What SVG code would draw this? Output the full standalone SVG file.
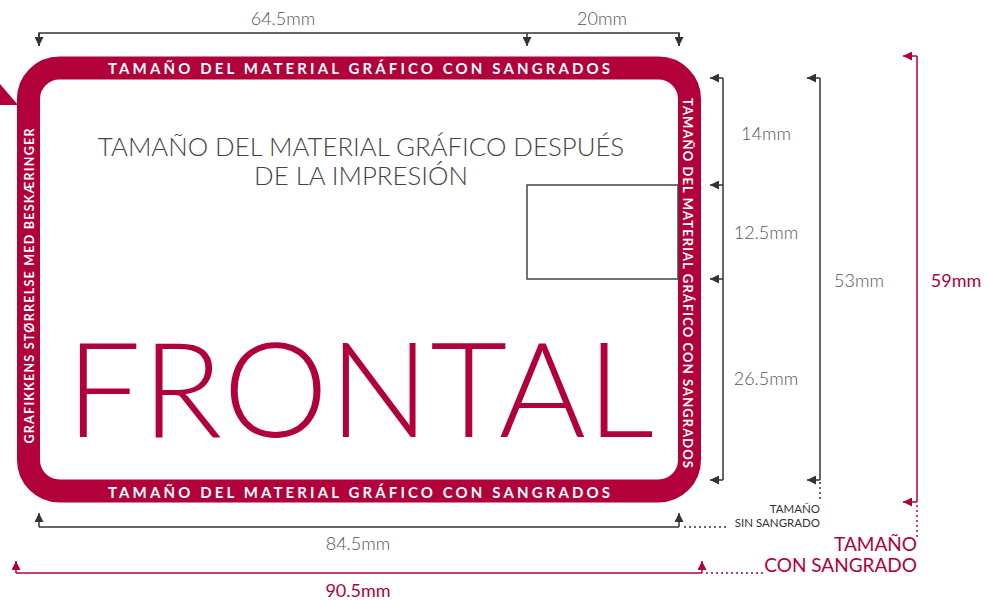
<svg xmlns="http://www.w3.org/2000/svg" width="988" height="601" viewBox="0 0 988 601">
<defs>
<style>
.band{font-family:Lato,"Liberation Sans",sans-serif;font-weight:700;fill:#fff}
.dim{font-family:Lato,"Liberation Sans",sans-serif;font-weight:300;fill:#555;font-size:18px}
.rdim{font-family:Lato,"Liberation Sans",sans-serif;font-weight:400;fill:#b1003a;font-size:18px}
.lk{fill:none;stroke:#333;stroke-width:1.5}
.lr{fill:none;stroke:#b1003a;stroke-width:1.5}
.dk{fill:none;stroke:#333;stroke-width:1.5;stroke-dasharray:2 3}
.dr{fill:none;stroke:#b1003a;stroke-width:1.5;stroke-dasharray:2 3}
</style>
<marker id="ak" viewBox="0 0 10 10" refX="10" refY="5" markerWidth="9" markerHeight="9" markerUnits="userSpaceOnUse" orient="auto"><path d="M0,0 L10,5 L0,10 z" fill="#333"/></marker>
<marker id="ar" viewBox="0 0 10 10" refX="10" refY="5" markerWidth="9" markerHeight="9" markerUnits="userSpaceOnUse" orient="auto"><path d="M0,0 L10,5 L0,10 z" fill="#b1003a"/></marker>
</defs>
<rect width="988" height="601" fill="#fff"/>

<g id="corner-mark"><polygon points="0,84 18,105 0,105" fill="#b1003a"/></g>

<g id="frame">
<rect x="28.5" y="68" width="661" height="423" rx="31" ry="31" fill="none" stroke="#b1003a" stroke-width="23"/>
<text class="band" x="359" y="74" font-size="15" text-anchor="middle" textLength="502" lengthAdjust="spacing">TAMAÑO DEL MATERIAL GRÁFICO CON SANGRADOS</text>
<text class="band" x="359" y="498" font-size="15" text-anchor="middle" textLength="502" lengthAdjust="spacing">TAMAÑO DEL MATERIAL GRÁFICO CON SANGRADOS</text>
<text class="band" transform="translate(33.5,286) rotate(-90)" font-size="12.5" text-anchor="middle" textLength="315" lengthAdjust="spacing">GRAFIKKENS STØRRELSE MED BESKÆRINGER</text>
<text class="band" transform="translate(683,283) rotate(90)" font-size="13" text-anchor="middle" textLength="370" lengthAdjust="spacing">TAMAÑO DEL MATERIAL GRÁFICO CON SANGRADOS</text>
</g>

<g id="title">
<text x="361" y="156" font-family="Lato,'Liberation Sans',sans-serif" font-weight="300" font-size="25.8" fill="#444" text-anchor="middle">TAMAÑO DEL MATERIAL GRÁFICO DESPUÉS</text>
<text x="361" y="185" font-family="Lato,'Liberation Sans',sans-serif" font-weight="300" font-size="25.8" fill="#444" text-anchor="middle">DE LA IMPRESIÓN</text>
</g>

<g id="chip"><rect x="527" y="185" width="151" height="94" fill="#fff" stroke="#444" stroke-width="1.5"/></g>

<g id="frontal">
<text x="66" y="437" font-family="Lato,'Liberation Sans',sans-serif" font-weight="300" font-size="133" fill="#b1003a" textLength="588" lengthAdjust="spacing">FRONTAL</text>
</g>

<g id="connectors">
<path class="lk" d="M39,46 V33 H679 V46"/>
<path class="lk" d="M39,33 V46" marker-end="url(#ak)"/>
<path class="lk" d="M527,33 V46" marker-end="url(#ak)"/>
<path class="lk" d="M679,33 V46" marker-end="url(#ak)"/>
<path class="lk" d="M723,78 V480"/>
<path class="lk" d="M723,78 H710" marker-end="url(#ak)"/>
<path class="lk" d="M723,185 H710" marker-end="url(#ak)"/>
<path class="lk" d="M723,279 H710" marker-end="url(#ak)"/>
<path class="lk" d="M723,480 H710" marker-end="url(#ak)"/>
<path class="lk" d="M820,78 V480"/>
<path class="lk" d="M820,78 H807" marker-end="url(#ak)"/>
<path class="lk" d="M820,480 H807" marker-end="url(#ak)"/>
<path class="dk" d="M820,482 V502"/>
<path class="lr" d="M917,56 V502"/>
<path class="lr" d="M917,56 H903" marker-end="url(#ar)"/>
<path class="lr" d="M917,502 H903" marker-end="url(#ar)"/>
<path class="dr" d="M917,505 V540"/>
<path class="lk" d="M39,527 H679"/>
<path class="lk" d="M39,527 V513" marker-end="url(#ak)"/>
<path class="lk" d="M679,527 V513" marker-end="url(#ak)"/>
<path class="dk" d="M684,527 H729"/>
<path class="lr" d="M16,573 H702"/>
<path class="lr" d="M16,573 V561" marker-end="url(#ar)"/>
<path class="lr" d="M702,573 V561" marker-end="url(#ar)"/>
<path class="dr" d="M706,573 H766"/>
</g>

<g id="labels">
<text class="dim" x="283" y="25" text-anchor="middle">64.5mm</text>
<text class="dim" x="602" y="25" text-anchor="middle">20mm</text>
<text class="dim" x="766" y="140" text-anchor="middle">14mm</text>
<text class="dim" x="766" y="239" text-anchor="middle">12.5mm</text>
<text class="dim" x="766" y="385" text-anchor="middle">26.5mm</text>
<text class="dim" x="859" y="287" text-anchor="middle">53mm</text>
<text class="rdim" x="956" y="287" text-anchor="middle">59mm</text>
<text class="dim" x="358" y="550" text-anchor="middle">84.5mm</text>
<text class="rdim" x="358" y="597" text-anchor="middle">90.5mm</text>
<text x="820" y="513" font-family="Lato,'Liberation Sans',sans-serif" font-size="11.5" fill="#333" text-anchor="end">TAMAÑO</text>
<text x="820" y="527" font-family="Lato,'Liberation Sans',sans-serif" font-size="11.5" fill="#333" text-anchor="end">SIN SANGRADO</text>
<text x="917" y="551" font-family="Lato,'Liberation Sans',sans-serif" font-size="19" fill="#b1003a" text-anchor="end">TAMAÑO</text>
<text x="917" y="572" font-family="Lato,'Liberation Sans',sans-serif" font-size="19" fill="#b1003a" text-anchor="end">CON SANGRADO</text>
</g>
</svg>
